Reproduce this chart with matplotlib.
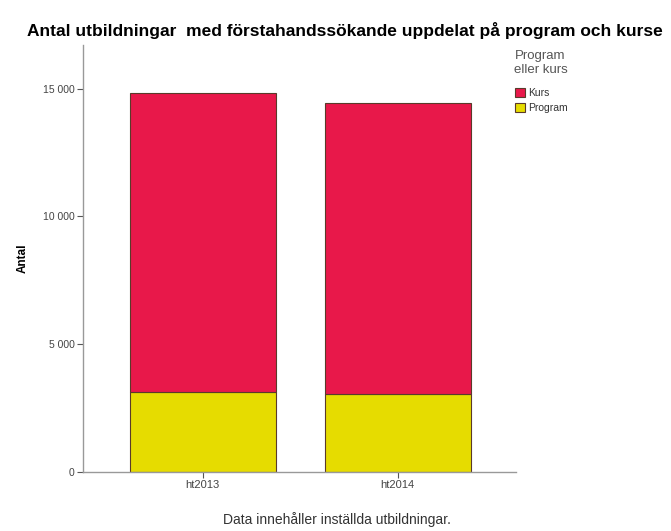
import matplotlib
matplotlib.use("Agg")
import matplotlib.pyplot as plt

categories = ["ht2013", "ht2014"]
program = [3120, 3050]
kurs = [11720, 11370]
series_labels = ["Kurs", "Program"]
yticks = [0, 5000, 10000, 15000]
ytick_labels = ["0", "5 000", "10 000", "15 000"]

red = "#E8184A"
yellow = "#E6DC00"
edge = "#5a3a2a"
axis_col = "#999999"

fig = plt.figure(figsize=(6.71, 5.31), dpi=100)
ax = fig.add_axes([0.1237, 0.111, 0.646, 0.804])
x = list(range(len(categories)))
bp = ax.bar(x, program, width=0.75, color=yellow, edgecolor=edge, linewidth=0.8, label="Program")
bk = ax.bar(x, kurs, width=0.75, bottom=program, color=red, edgecolor=edge, linewidth=0.8, label="Kurs")

ax.set_xlim(-0.615, 1.61)
ax.set_ylim(0, 16700)
ax.set_yticks(yticks)
ax.set_yticklabels(ytick_labels, fontsize=7.5, color="#444444", family="Liberation Sans")
ax.set_xticks(x)
ax.set_xticklabels(categories, fontsize=8, color="#444444", family="Liberation Sans")
for s in ["top", "right"]:
    ax.spines[s].set_visible(False)
for s in ["left", "bottom"]:
    ax.spines[s].set_color(axis_col)
    ax.spines[s].set_linewidth(1.0)
ax.tick_params(axis="both", color="#555555", length=4, width=0.8, pad=2)
ax.set_ylabel("Antal", fontsize=8.5, fontweight="bold", family="Liberation Sans", labelpad=10)

fig.text(0.514, 0.943, "Antal utbildningar  med förstahandssökande uppdelat på program och kurse",
         ha="center", va="center", fontsize=12.5, fontweight="bold", family="Liberation Sans")

fig.text(0.502, 0.021, "Data innehåller inställda utbildningar.", ha="center", va="center",
         fontsize=10, color="#333333", family="Liberation Sans")

leg = fig.legend([bk, bp], series_labels, loc="upper left", bbox_to_anchor=(0.762, 0.912),
                 frameon=False, title="Program\neller kurs", title_fontsize=9.5,
                 handlelength=1.0, handleheight=1.0, handletextpad=0.3, labelspacing=0.4,
                 borderaxespad=0, borderpad=0.3,
                 prop={"family": "Liberation Sans", "size": 7.5})
leg.get_title().set_color("#555555")
leg.get_title().set_family("Liberation Sans")
leg._legend_box.sep = 9
for t in leg.get_texts():
    t.set_color("#333333")

fig.savefig("out.png", dpi=100)
